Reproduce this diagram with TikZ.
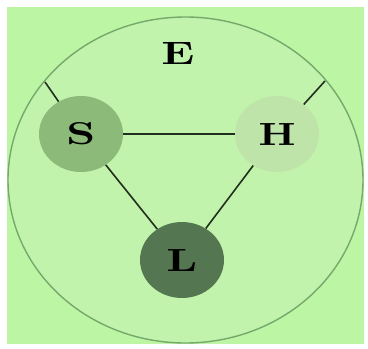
\documentclass[tikz,border=0pt]{standalone}
\usepackage{fontspec}
\usepackage{graphicx}
\usepackage{tikz}
\usetikzlibrary{shapes.geometric}

\definecolor{bggreen}{RGB}{188,245,164}
\definecolor{ringgreen}{RGB}{193,243,172}
\definecolor{ringline}{RGB}{118,168,108}
\definecolor{sgreen}{RGB}{140,186,120}
\definecolor{hgreen}{RGB}{190,228,170}
\definecolor{lgreen}{RGB}{84,118,80}
\definecolor{linkcol}{RGB}{34,46,30}

% letter stretched to a given width, 22pt high
\newcommand{\ballname}[2]{\resizebox{#2}{22pt}{\bfseries #1}}

\tikzset{ball/.style={ellipse, minimum width=84pt, minimum height=76pt, inner sep=0pt}}

\begin{document}
\begin{tikzpicture}[x=1pt,y=-1pt]
    \useasboundingbox (0,0) rectangle (368,349);
    \fill[white] (0,0) rectangle (368,349);
    \fill[bggreen] (7,7) rectangle (364,344);
    \draw[ringline, fill=ringgreen, line width=1.4pt] (185.5,180) ellipse (177.5 and 163);
    \node (E) at (178,53) {\ballname{E}{33pt}};
    \node[ball, fill=sgreen] (S) at (81,134) {\ballname{S}{29pt}};
    \node[ball, fill=hgreen] (H) at (277,134) {\ballname{H}{37pt}};
    \node[ball, fill=lgreen] (L) at (182,260) {\ballname{L}{31pt}};
    \coordinate (es) at (45,82);
    \coordinate (eh) at (325,81);
    \draw[linkcol, line width=1.6pt] (S) -- (H);
    \draw[linkcol, line width=1.6pt] (S) -- (L);
    \draw[linkcol, line width=1.6pt] (H) -- (L);
    \draw[linkcol, line width=1.6pt] (S) -- (es);
    \draw[linkcol, line width=1.6pt] (H) -- (eh);
\end{tikzpicture}
\end{document}
